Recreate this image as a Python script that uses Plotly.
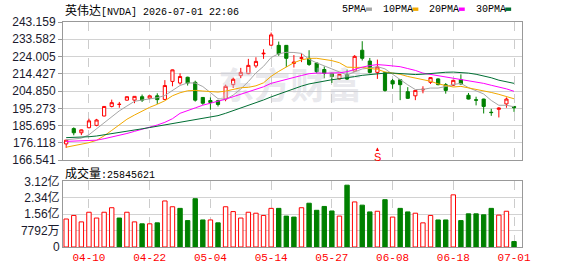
import plotly.graph_objects as go

# ---------------- data ----------------
dates = [
    "2026-04-07", "2026-04-08", "2026-04-09", "2026-04-10", "2026-04-13", "2026-04-14", "2026-04-15",
    "2026-04-16", "2026-04-17", "2026-04-20", "2026-04-21", "2026-04-22", "2026-04-23", "2026-04-24",
    "2026-04-27", "2026-04-28", "2026-04-29", "2026-04-30", "2026-05-01", "2026-05-04", "2026-05-05",
    "2026-05-06", "2026-05-07", "2026-05-08", "2026-05-11", "2026-05-12", "2026-05-13", "2026-05-14",
    "2026-05-15", "2026-05-18", "2026-05-19", "2026-05-20", "2026-05-21", "2026-05-22", "2026-05-26",
    "2026-05-27", "2026-05-28", "2026-05-29", "2026-06-01", "2026-06-02", "2026-06-03", "2026-06-04",
    "2026-06-05", "2026-06-08", "2026-06-09", "2026-06-10", "2026-06-11", "2026-06-12", "2026-06-15",
    "2026-06-16", "2026-06-17", "2026-06-18", "2026-06-22", "2026-06-23", "2026-06-24", "2026-06-25",
    "2026-06-26", "2026-06-29", "2026-06-30", "2026-07-01",
]
opens = [175.5, 184.0, 181.7, 184.5, 185.8, 191.0, 196.3, 197.4, 199.8, 199.8,
         201.7, 200.9, 202.2, 200.2, 210.2, 209.3, 212.5, 209.7, 201.3, 199.6,
         199.5, 200.4, 208.4, 213.4, 214.5, 218.8, 225.5, 230.3, 230.2, 230.2,
         220.2, 223.0, 223.0, 220.4, 216.8, 214.7, 211.6, 214.1, 215.9, 227.5,
         221.5, 215.2, 215.0, 210.6, 211.1, 204.5, 202.2, 205.5, 209.7, 211.6,
         208.4, 208.1, 211.1, 202.5, 200.0, 200.4, 193.1, 194.7, 197.7, 196.3]
highs = [177.8, 184.7, 183.5, 189.5, 189.4, 196.5, 200.1, 198.8, 201.9, 202.0,
         202.9, 202.4, 203.6, 210.9, 216.8, 214.7, 212.8, 210.6, 201.5, 201.3,
         200.0, 208.4, 212.3, 217.7, 222.7, 223.6, 228.0, 237.3, 232.3, 230.4,
         224.8, 225.7, 227.5, 220.6, 218.5, 215.0, 214.3, 216.8, 224.8, 232.5,
         223.2, 222.3, 215.3, 211.6, 211.4, 207.0, 205.4, 207.5, 212.6, 211.9,
         209.3, 211.0, 214.1, 203.8, 201.7, 200.6, 195.0, 195.9, 201.3, 196.5]
lows = [173.3, 180.3, 180.4, 184.2, 185.3, 190.8, 195.8, 195.6, 199.5, 198.1,
        198.8, 200.4, 197.7, 199.8, 207.5, 208.4, 207.9, 199.0, 197.2, 194.5,
        196.3, 199.2, 206.6, 212.0, 214.2, 217.7, 222.7, 230.0, 224.4, 218.2,
        217.9, 220.9, 218.8, 214.7, 212.0, 209.3, 211.3, 211.0, 215.5, 221.8,
        214.7, 211.6, 204.5, 206.1, 199.8, 200.5, 199.8, 203.6, 208.8, 208.0,
        203.4, 207.6, 208.4, 200.2, 196.9, 192.4, 191.1, 190.2, 195.6, 193.3]
closes = [177.6, 181.7, 183.3, 188.3, 188.8, 196.3, 198.4, 197.5, 201.7, 201.9,
          199.8, 202.2, 200.1, 207.9, 216.6, 212.9, 209.3, 199.8, 198.1, 198.5,
          197.4, 207.5, 211.4, 215.2, 219.1, 221.3, 225.8, 236.0, 225.5, 223.0,
          220.9, 223.3, 219.6, 215.6, 214.7, 212.9, 214.1, 211.5, 224.1, 223.0,
          215.2, 218.2, 205.2, 208.8, 208.4, 200.8, 205.2, 205.8, 212.3, 208.4,
          205.2, 210.8, 208.8, 200.4, 199.8, 196.3, 192.9, 195.4, 200.4, 195.6]
volumes_m = [132.9, 149.8, 119.2, 165.0, 137.5, 165.0, 186.4, 137.5, 165.0, 119.2,
             110.0, 110.0, 114.6, 218.5, 191.0, 183.4, 125.3, 229.2, 128.4, 128.4,
             114.6, 191.0, 168.1, 137.5, 165.0, 160.4, 149.8, 183.4, 183.4, 146.7,
             142.1, 186.4, 207.8, 174.2, 192.5, 171.1, 146.7, 293.4, 213.9, 198.6,
             166.6, 169.6, 224.6, 142.1, 183.4, 166.6, 160.4, 114.6, 149.8, 128.4,
             128.4, 247.5, 125.3, 157.4, 157.4, 152.8, 183.4, 151.3, 169.6, 25.845621]

# moving-average values before a full window is available
ma5_head = [177.8, 178.1, 178.7, 180.6]
ma10_head = [173.7, 174.5, 175.3, 176.2, 177.5, 180.0, 183.0, 186.0, 189.2]
ma20_head = [176.9, 177.0, 177.0, 177.1, 177.6, 178.4, 179.3, 180.3, 181.3, 182.5,
             183.6, 185.0, 186.0, 187.5, 189.5, 192.5, 194.2, 195.5, 197.0]
ma30_head = [179.0, 179.1, 179.3, 179.5, 179.9, 180.5, 181.1, 181.8, 182.5, 183.2,
             183.9, 184.6, 185.3, 186.0, 186.8, 187.5, 188.2, 188.8, 189.6, 190.4,
             191.2, 192.5, 193.9, 195.3, 196.8, 198.3, 199.9, 201.6, 203.2]

price_ticks = [166.541, 176.118, 185.695, 195.273, 204.850, 214.427, 224.005, 233.582, 243.159]
price_tick_text = ["166.541", "176.118", "185.695", "195.273", "204.850", "214.427",
                   "224.005", "233.582", "243.159"]
vol_ticks = [0, 77.92e6, 155.84e6, 233.76e6, 311.68e6]
vol_tick_text = ["0", "7792万", "1.56亿", "2.34亿", "3.12亿"]
label_dates = ["2026-04-10", "2026-04-22", "2026-05-04", "2026-05-14", "2026-05-27",
               "2026-06-08", "2026-06-18", "2026-07-01"]

title_name = "英伟达"
title_rest = "[NVDA] 2026-07-01 22:06"
vol_title = "成交量:25845621"
legend_items = [("5PMA", "#a6a6a6"), ("10PMA", "#f2a900"), ("20PMA", "#ff00ff"), ("30PMA", "#006e33")]
signal_date = "2026-06-04"
signal_text = "S"
watermark = "东方财富"

# ---------------- derived ----------------
n = len(dates)
xs = list(range(n))
volumes = [v * 1e6 for v in volumes_m]


def moving_avg(head, w):
    vals = list(head)
    for i in range(len(head), n):
        vals.append(sum(closes[i - w + 1:i + 1]) / w)
    return vals


ma_series = [moving_avg(ma5_head, 5), moving_avg(ma10_head, 10),
             moving_avg(ma20_head, 20), moving_avg(ma30_head, 30)]

RED = "#ff0000"
GREEN = "#008000"
up_vol = [i == 0 or closes[i] >= closes[i - 1] for i in range(n)]
vol_fill = ["#ffffff" if u else GREEN for u in up_vol]
vol_line = [RED if u else GREEN for u in up_vol]

W, H = 578, 276
ML, MR, MT, MB = 57, 56, 22, 21
PH = H - MT - MB
main_bottom_px = 165
vol_top_px = 187


def py(ypx):
    return (H - MB - ypx) / PH


def px(xpx):
    return (xpx - ML) / (W - ML - MR)


x_range = [-0.42, 60.05]
y_range = [price_ticks[0], price_ticks[-1]]

fig = go.Figure()

# watermark (drawn first, behind everything)
fig.add_trace(go.Scatter(
    x=[x_range[0] + 0.495 * (x_range[1] - x_range[0])],
    y=[y_range[0] + 0.51 * (y_range[1] - y_range[0])],
    mode="text", text=[watermark],
    textfont=dict(family="Noto Sans CJK SC", size=36, color="rgba(205,205,215,0.45)", weight="bold"),
    hoverinfo="skip", showlegend=False, xaxis="x", yaxis="y"))

fig.add_trace(go.Candlestick(
    x=xs, open=opens, high=highs, low=lows, close=closes,
    increasing=dict(line=dict(color=RED, width=1), fillcolor="#ffffff"),
    decreasing=dict(line=dict(color=GREEN, width=1), fillcolor=GREEN),
    whiskerwidth=0, showlegend=False, hoverinfo="skip", xaxis="x", yaxis="y"))

for (name, color), vals in zip(legend_items, ma_series):
    fig.add_trace(go.Scatter(x=xs, y=vals, mode="lines", line=dict(color=color, width=1),
                             name=name, showlegend=False, hoverinfo="skip", xaxis="x", yaxis="y"))

fig.add_trace(go.Bar(x=xs, y=volumes, marker=dict(color=vol_fill, line=dict(color=vol_line, width=1)),
                     showlegend=False, hoverinfo="skip", xaxis="x2", yaxis="y2"))

tick_idx = [dates.index(d) for d in label_dates]
tick_txt = [d[5:] for d in label_dates]

axis_common = dict(showline=True, mirror=True, linecolor="#999999", linewidth=1, zeroline=False)
xcommon = dict(range=x_range, tickvals=tick_idx, showgrid=True, gridcolor="#cccccc",
               griddash="dash", gridwidth=1, ticks="", **axis_common)

fig.update_layout(
    width=W, height=H,
    margin=dict(l=ML, r=MR, t=MT, b=MB, pad=0),
    paper_bgcolor="white", plot_bgcolor="white",
    bargap=0.42, boxgap=0.4,
    xaxis=dict(domain=[0, 1], anchor="y", showticklabels=False,
               rangeslider=dict(visible=False), **xcommon),
    xaxis2=dict(domain=[0, 1], anchor="y2", showticklabels=True, ticktext=tick_txt,
                tickfont=dict(family="Liberation Mono", size=11, color=RED), **xcommon),
    yaxis=dict(domain=[py(main_bottom_px), 1], anchor="x", range=y_range,
               tickvals=price_ticks, ticktext=price_tick_text,
               tickfont=dict(family="Liberation Sans", size=12, color="#1a1a2e"),
               showgrid=True, gridcolor="#d2d2d2", gridwidth=1,
               ticks="outside", ticklen=4, tickcolor="#999999", **axis_common),
    yaxis2=dict(domain=[0, py(vol_top_px)], anchor="x2", range=[vol_ticks[0], vol_ticks[-1]],
                tickvals=vol_ticks, ticktext=vol_tick_text,
                tickfont=dict(family="Liberation Sans, Noto Sans CJK SC", size=12, color="#1a1a2e"),
                showgrid=True, gridcolor="#d2d2d2", gridwidth=1,
                ticks="", **axis_common),
    showlegend=False,
)

mono = "Liberation Mono"
cjk = "Noto Sans CJK SC"
annos = []
annos.append(dict(
    xref="paper", yref="paper", x=px(57), y=py(9), xanchor="left", yanchor="middle", showarrow=False,
    text=f'<span style="font-family:{cjk};font-size:12px">{title_name}</span>'
         f'<span style="font-family:{mono};font-size:10px">{title_rest}</span>',
    font=dict(family=mono, size=10, color="#000000")))

vol_name, vol_num = vol_title.split(":")
annos.append(dict(
    xref="paper", yref="paper", x=px(57), y=py(178), xanchor="left", yanchor="middle", showarrow=False,
    text=f'<span style="font-family:{cjk};font-size:12px">{vol_name}</span>'
         f'<span style="font-family:{mono};font-size:10px">:{vol_num}</span>',
    font=dict(family=mono, size=10, color="#000000")))

shapes = []
lx = 338
for name, color in legend_items:
    w = 6 * len(name)
    annos.append(dict(xref="paper", yref="paper", x=px(lx), y=py(9), xanchor="left", yanchor="middle",
                      showarrow=False, text=name, font=dict(family=mono, size=10, color="#000000")))
    shapes.append(dict(type="rect", xref="paper", yref="paper",
                       x0=px(lx + w + 2), x1=px(lx + w + 8), y0=py(10.5), y1=py(7),
                       fillcolor=color, line=dict(width=0)))
    lx += w + 17

annos.append(dict(xref="x", yref="paper", x=dates.index(signal_date), y=py(152),
                  ax=0, ay=9, text=signal_text, showarrow=True, arrowhead=2, arrowsize=0.7,
                  arrowwidth=1, arrowcolor=RED, standoff=0, startstandoff=0,
                  font=dict(family="Liberation Sans", size=11, color=RED)))

fig.update_layout(annotations=annos, shapes=shapes)

fig.write_html("out.html")
